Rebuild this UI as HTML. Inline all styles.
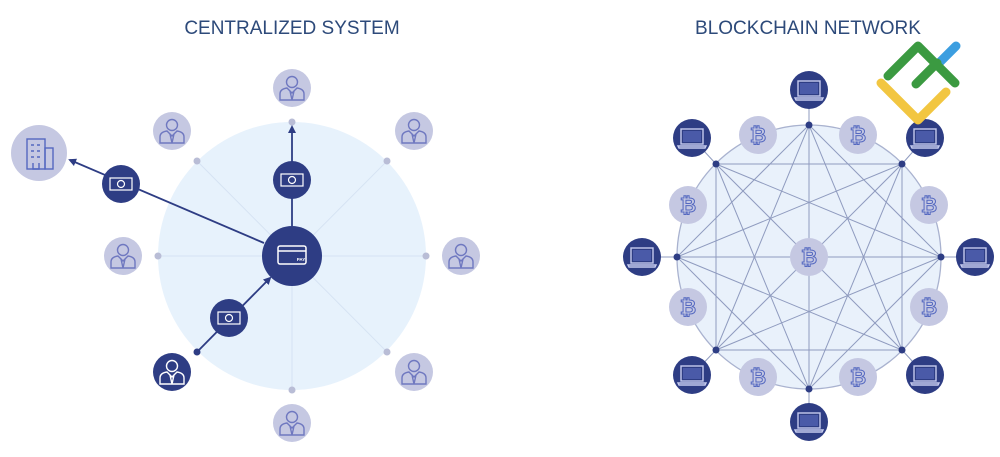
<!DOCTYPE html>
<html><head><meta charset="utf-8"><style>
html,body{margin:0;padding:0;background:#fff;width:1000px;height:457px;overflow:hidden}
svg{display:block}
text{font-family:"Liberation Sans","DejaVu Sans",sans-serif}
</style></head><body>
<svg width="1000" height="457" viewBox="0 0 1000 457" xmlns="http://www.w3.org/2000/svg">
<defs>
<marker id="ar" markerWidth="8" markerHeight="8" refX="6" refY="4" orient="auto" markerUnits="userSpaceOnUse">
<path d="M0,0 L8,4 L0,8 Z" fill="#2e3d84"/></marker>
<g id="person" fill="none" stroke-width="1.4">
<circle cx="0" cy="-6" r="5.5"/>
<path d="M-12,12 L-12,6 Q-12,1 -5,0 L0,5 L5,0 Q12,1 12,6 L12,12 Z"/>
<path d="M-2,3 L0,12 L2,3"/>
</g>
<g id="laptop" fill="none" stroke="#c5cbee" stroke-width="1.4">
<rect x="-11" y="-9" width="22" height="15"/>
<rect x="-9" y="-7" width="18" height="11" fill="#4a5aa8" stroke="none"/>
<path d="M-14,8 L14,8 L13,10 L-13,10 Z"/>
</g>
<g id="bill" fill="none" stroke="#fff" stroke-width="1.2">
<rect x="-11" y="-6" width="22" height="12"/>
<circle cx="0" cy="0" r="3.5"/>
</g>
</defs>

<text x="292" y="34" font-size="19" fill="#2d4a7a" text-anchor="middle">CENTRALIZED SYSTEM</text>
<text x="808" y="34" font-size="19" fill="#2d4a7a" text-anchor="middle">BLOCKCHAIN NETWORK</text>

<!-- LEFT -->
<circle cx="292" cy="256" r="134" fill="#e7f2fc"/>
<g stroke="#d6e3f3" stroke-width="1">
<line x1="292" y1="122" x2="292" y2="390"/><line x1="158" y1="256" x2="426" y2="256"/>
<line x1="197" y1="161" x2="387" y2="352"/><line x1="387" y1="161" x2="197" y2="352"/>
</g>
<g fill="#b9bdd6">
<circle cx="292" cy="122" r="3.5"/><circle cx="197" cy="161" r="3.5"/><circle cx="387" cy="161" r="3.5"/>
<circle cx="158" cy="256" r="3.5"/><circle cx="426" cy="256" r="3.5"/><circle cx="387" cy="352" r="3.5"/>
<circle cx="292" cy="390" r="3.5"/>
</g>
<circle cx="197" cy="352" r="3.5" fill="#2e3d84"/>
<g stroke="#2e3d84" stroke-width="1.8">
<line x1="292" y1="226" x2="292" y2="127" marker-end="url(#ar)"/>
<line x1="264" y1="243" x2="70" y2="160" marker-end="url(#ar)"/>
<line x1="197" y1="352" x2="270" y2="278" marker-end="url(#ar)"/>
</g>
<g fill="#c5c8e2" stroke="#6f78c0">
<circle cx="292" cy="88" r="19" stroke="none"/><use href="#person" x="292" y="88"/>
<circle cx="172" cy="131" r="19" stroke="none"/><use href="#person" x="172" y="131"/>
<circle cx="414" cy="131" r="19" stroke="none"/><use href="#person" x="414" y="131"/>
<circle cx="123" cy="256" r="19" stroke="none"/><use href="#person" x="123" y="256"/>
<circle cx="461" cy="256" r="19" stroke="none"/><use href="#person" x="461" y="256"/>
<circle cx="414" cy="372" r="19" stroke="none"/><use href="#person" x="414" y="372"/>
<circle cx="292" cy="423" r="19" stroke="none"/><use href="#person" x="292" y="423"/>
</g>
<circle cx="172" cy="372" r="19" fill="#2e3d84"/><use href="#person" x="172" y="372" stroke="#fff"/>
<circle cx="39" cy="153" r="28" fill="#c5c8e2"/>
<g fill="none" stroke="#5468c0" stroke-width="1.4">
<rect x="27" y="139" width="18" height="30"/><rect x="45" y="148" width="8" height="21"/>
<path d="M31,145h3M37,145h3M31,151h3M37,151h3M31,157h3M37,157h3M33,163v6h6v-6"/>
</g>
<circle cx="292" cy="256" r="30" fill="#2e3d84"/>
<rect x="278" y="246" width="28" height="18" rx="2" fill="none" stroke="#fff" stroke-width="1.5"/>
<line x1="278" y1="251" x2="306" y2="251" stroke="#fff" stroke-width="1.5"/>
<text x="301" y="261" font-size="4.5" fill="#fff" text-anchor="middle" font-weight="bold">PAY</text>
<circle cx="121" cy="184" r="19" fill="#2e3d84"/><use href="#bill" x="121" y="184"/>
<circle cx="292" cy="180" r="19" fill="#2e3d84"/><use href="#bill" x="292" y="180"/>
<circle cx="229" cy="318" r="19" fill="#2e3d84"/><use href="#bill" x="229" y="318"/>

<!-- RIGHT -->
<circle cx="809" cy="257" r="132" fill="#e9f1fb" stroke="#a9b2cf" stroke-width="1.3"/>
<g stroke="#8f9bbf" stroke-width="1">
<line x1="809" y1="125" x2="941" y2="257"/><line x1="809" y1="125" x2="902" y2="350"/><line x1="809" y1="125" x2="809" y2="389"/><line x1="809" y1="125" x2="716" y2="350"/><line x1="809" y1="125" x2="677" y2="257"/>
<line x1="902" y1="164" x2="902" y2="350"/><line x1="902" y1="164" x2="809" y2="389"/><line x1="902" y1="164" x2="716" y2="350"/><line x1="902" y1="164" x2="677" y2="257"/><line x1="902" y1="164" x2="716" y2="164"/>
<line x1="941" y1="257" x2="809" y2="389"/><line x1="941" y1="257" x2="716" y2="350"/><line x1="941" y1="257" x2="677" y2="257"/><line x1="941" y1="257" x2="716" y2="164"/>
<line x1="902" y1="350" x2="716" y2="350"/><line x1="902" y1="350" x2="677" y2="257"/><line x1="902" y1="350" x2="716" y2="164"/>
<line x1="809" y1="389" x2="677" y2="257"/><line x1="809" y1="389" x2="716" y2="164"/>
<line x1="716" y1="350" x2="716" y2="164"/>
<line x1="809" y1="125" x2="809" y2="90"/><line x1="902" y1="164" x2="925" y2="138"/><line x1="941" y1="257" x2="975" y2="257"/><line x1="902" y1="350" x2="925" y2="375"/>
<line x1="809" y1="389" x2="809" y2="422"/><line x1="716" y1="350" x2="692" y2="375"/><line x1="677" y1="257" x2="642" y2="257"/><line x1="716" y1="164" x2="692" y2="138"/>
</g>
<g fill="#2e3d84">
<circle cx="809" cy="125" r="3.5"/><circle cx="902" cy="164" r="3.5"/><circle cx="941" cy="257" r="3.5"/><circle cx="902" cy="350" r="3.5"/>
<circle cx="809" cy="389" r="3.5"/><circle cx="716" cy="350" r="3.5"/><circle cx="677" cy="257" r="3.5"/><circle cx="716" cy="164" r="3.5"/>
<circle cx="809" cy="90" r="19"/><circle cx="925" cy="138" r="19"/><circle cx="975" cy="257" r="19"/><circle cx="925" cy="375" r="19"/>
<circle cx="809" cy="422" r="19"/><circle cx="692" cy="375" r="19"/><circle cx="642" cy="257" r="19"/><circle cx="692" cy="138" r="19"/>
</g>
<use href="#laptop" x="809" y="90"/><use href="#laptop" x="925" y="138"/><use href="#laptop" x="975" y="257"/><use href="#laptop" x="925" y="375"/>
<use href="#laptop" x="809" y="422"/><use href="#laptop" x="692" y="375"/><use href="#laptop" x="642" y="257"/><use href="#laptop" x="692" y="138"/>
<g fill="#c5c8e2">
<circle cx="758" cy="135" r="19"/><circle cx="858" cy="135" r="19"/><circle cx="688" cy="205" r="19"/><circle cx="929" cy="205" r="19"/>
<circle cx="688" cy="307" r="19"/><circle cx="929" cy="307" r="19"/><circle cx="758" cy="377" r="19"/><circle cx="858" cy="377" r="19"/>
<circle cx="809" cy="257" r="19"/>
</g>
<g font-size="20" fill="none" stroke="#5468c0" stroke-width="1" text-anchor="middle" font-family="DejaVu Sans, sans-serif" font-weight="bold">
<text x="758" y="142">₿</text><text x="858" y="142">₿</text><text x="688" y="212">₿</text><text x="929" y="212">₿</text>
<text x="688" y="314">₿</text><text x="929" y="314">₿</text><text x="758" y="384">₿</text><text x="858" y="384">₿</text>
<text x="809" y="264">₿</text>
</g>

<!-- logo -->
<g fill="none" stroke-linecap="round" stroke-linejoin="round" stroke-width="9">
<path d="M940,62 L956,46" stroke="#3c9ee0"/>
<path d="M881,83 L918,120 L946,92" stroke="#f2c641"/>
<path d="M888,76 L918,46 L955,83" stroke="#3b9a41"/>
<path d="M916,84 L937,63" stroke="#3b9a41"/>
</g>
</svg>
</body></html>
